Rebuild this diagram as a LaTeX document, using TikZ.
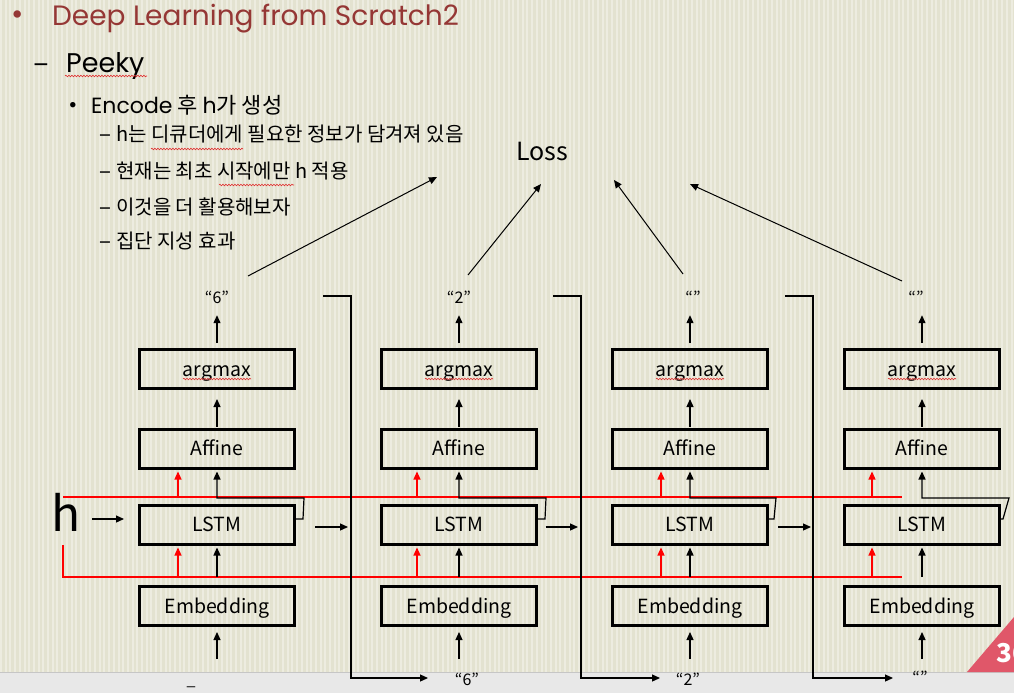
\documentclass[tikz,border=0pt]{standalone}
\usepackage{fontspec}
\setmainfont{Noto Sans CJK KR}
\newfontfamily\geo{Poppins}
\usetikzlibrary{arrows.meta,decorations.pathmorphing}
\definecolor{bgbase}{HTML}{E3E2D0}
\definecolor{bgstripe}{HTML}{EDECE0}
\definecolor{titlered}{HTML}{953735}
\definecolor{slidered}{HTML}{E05769}
\definecolor{stripgray}{HTML}{E8E8E8}
\definecolor{spellred}{HTML}{E03030}
\begin{document}
\begin{tikzpicture}[x=1pt,y=-1pt,
  box/.style={draw,line width=3pt,minimum width=155pt,minimum height=39pt,inner sep=0pt,text height=18pt,text depth=4pt,font=\fontsize{19.5}{19.5}\selectfont},
  arr/.style={line width=1.2pt,-{Triangle[length=8pt,width=7pt]}},
  rarr/.style={arr,red},
  rline/.style={red,line width=1.2pt},
  lab/.style={anchor=base,inner sep=0pt,text depth=0pt,font=\fontsize{16}{16}\selectfont},
  txt/.style={anchor=base west,inner sep=0pt},
  wavy/.style={spellred,line width=0.6pt,decorate,decoration={snake,amplitude=0.8pt,segment length=3pt}},
]
\clip (0,0) rectangle (1014,693);
% background
\fill[bgbase] (0,0) rectangle (1014,693);
\foreach \i in {0,...,216} \fill[bgstripe] ({\i*4.7},0) rectangle ({\i*4.7+2},672);
\fill[stripgray] (0,672) rectangle (1014,693);
\draw[gray!45,line width=0.8pt] (0,672) -- (1014,672);
\fill[slidered] (967,672) -- (1014,617) -- (1014,672) -- cycle;
\node[txt,text=white,font=\fontsize{26}{26}\selectfont\bfseries] (pg) at (996,662) {36};

% text block
\node[text=titlered,inner sep=0pt,font=\geo\fontsize{30}{30}\selectfont] (b0) at (18,18) {•};
\node[txt,text=titlered,font=\geo\fontsize{28}{28}\selectfont] (title) at (52,26) {Deep Learning from Scratch2};
\node[inner sep=0pt,font=\geo\fontsize{24}{24}\selectfont] (d0) at (41,69) {–};
\node[txt,font=\geo\fontsize{27}{27}\selectfont] (peeky) at (66,72) {Peeky};
\node[inner sep=0pt,font=\geo\fontsize{22}{22}\selectfont] (b1) at (73,107) {•};
\node[txt,font=\fontsize{22}{22}\selectfont] (enc) at (91,113) {{\geo Encode} 후 {\geo h}가 생성};
\foreach \y/\t [count=\k] in {141.5/{h는 디큐더에게 필요한 정보가 담겨져 있음},178.5/{현재는 최초 시작에만 h 적용},214.5/{이것을 더 활용해보자},248.5/{집단 지성 효과}}{
  \node[inner sep=0pt,font=\geo\fontsize{19}{19}\selectfont] (sd\k) at (105,\y-3) {–};
  \node[txt,font=\fontsize{20}{20}\selectfont] (st\k) at (116,\y) {\t};
}
\draw[wavy] (65,76) -- (147,76);
\draw[wavy] (151,149) -- (243,149);
\draw[wavy] (219,185) -- (294,185);

% Loss
\node[txt,font=\fontsize{25}{25}\selectfont] (loss) at (516,160) {Loss};

% boxes
\foreach \i/\x in {1/217,2/459,3/690,4/922}{
  \node[box] (a\i) at (\x,369) {argmax};
  \node[box] (f\i) at (\x,448.5) {Affine};
  \node[box] (l\i) at (\x,524.5) {LSTM};
  \node[box] (e\i) at (\x,606) {Embedding};
  \draw[wavy] (\x-34,379) -- (\x+34,379);
  \coordinate (in\i) at (\x,659);
}

% top labels
\node[lab] (o1) at (217,303) {“6”};
\node[lab] (o2) at (459,303) {“2”};
\node[lab] (o3) at (693,303) {“”};
\node[lab] (o4) at (916,303) {“”};
% bottom labels
\node[lab] (i1) at (191,685) {\_};
\node[lab] (i2) at (467,685) {“6”};
\node[lab] (i3) at (688,685) {“2”};
\node[lab] (i4) at (920,683) {“”};

% h
\node[txt,font=\fontsize{48}{48}\selectfont] (h) at (51,531) {h};
\coordinate (hs) at (92,519);
\coordinate (hu) at (63,497);
\coordinate (ru) at (902,497);
\coordinate (hd) at (63,545);
\coordinate (rd) at (902,577);
\draw[rline] (hu) -- (ru);
\draw[rline] (hd) |- (rd);
\draw[arr,shorten >=14pt] (hs) -- ([yshift=5.5pt]l1.west);

% column arrows
\foreach \i/\rx/\ext/\sl in {1/-39/7/1,2/-42/7/1,3/-29/5/2,4/-50/2/6}{
  \draw[rarr,shorten <=8pt,shorten >=2pt] ([xshift=\rx pt]e\i.north) -- ([xshift=\rx pt]l\i.south);
  \draw[rarr,shorten <=6pt,shorten >=2pt] ([xshift=\rx pt]l\i.north) -- ([xshift=\rx pt]f\i.south);
  \draw[arr,shorten <=8pt,shorten >=2pt] (e\i.north) -- (l\i.south);
  \draw[arr] ([yshift=5.5pt]l\i.east) -- ++(\ext,0) -- ++(\sl,-21) -| ([yshift=-2pt]f\i.south);
  \draw[arr,shorten <=1pt,shorten >=9pt] (f\i) -- (a\i);
  \draw[arr,shorten <=5pt,shorten >=12pt] (a\i.north) -- (a\i.north |- o\i.south);
  \draw[arr,shorten >=5pt] (in\i) -- (e\i);
}

% LSTM to LSTM
\draw[arr,shorten <=19pt,shorten >=32pt] ([yshift=-2.5pt]l1.east) -- ([yshift=-2.5pt]l2.west);
\draw[arr,shorten <=7.5pt,shorten >=33pt] ([yshift=-2.5pt]l2.east) -- ([yshift=-2.5pt]l3.west);
\draw[arr,shorten <=9pt,shorten >=32pt] ([yshift=-2.5pt]l3.east) -- ([yshift=-2.5pt]l4.west);

% feedback
\coordinate (fa1) at (323,296); \coordinate (fb1) at (428,678);
\coordinate (fa2) at (553,296); \coordinate (fb2) at (660,678);
\coordinate (fa3) at (785,296); \coordinate (fb3) at (893,678);
\foreach \i in {1,2,3}{
  \draw[arr] (fa\i) -- ++(28,0) |- (fb\i);
}

% loss arrows
\coordinate (ls1) at (248,276); \coordinate (lt1) at (437,177);
\coordinate (ls2) at (468,275); \coordinate (lt2) at (541,184);
\coordinate (ls3) at (683,274); \coordinate (lt3) at (614,180);
\coordinate (ls4) at (902,281); \coordinate (lt4) at (690,184);
\foreach \i in {1,2,3,4}{
  \draw[line width=1pt,-{Triangle[length=8pt,width=7pt]}] (ls\i) -- (lt\i);
}
\end{tikzpicture}
\end{document}
